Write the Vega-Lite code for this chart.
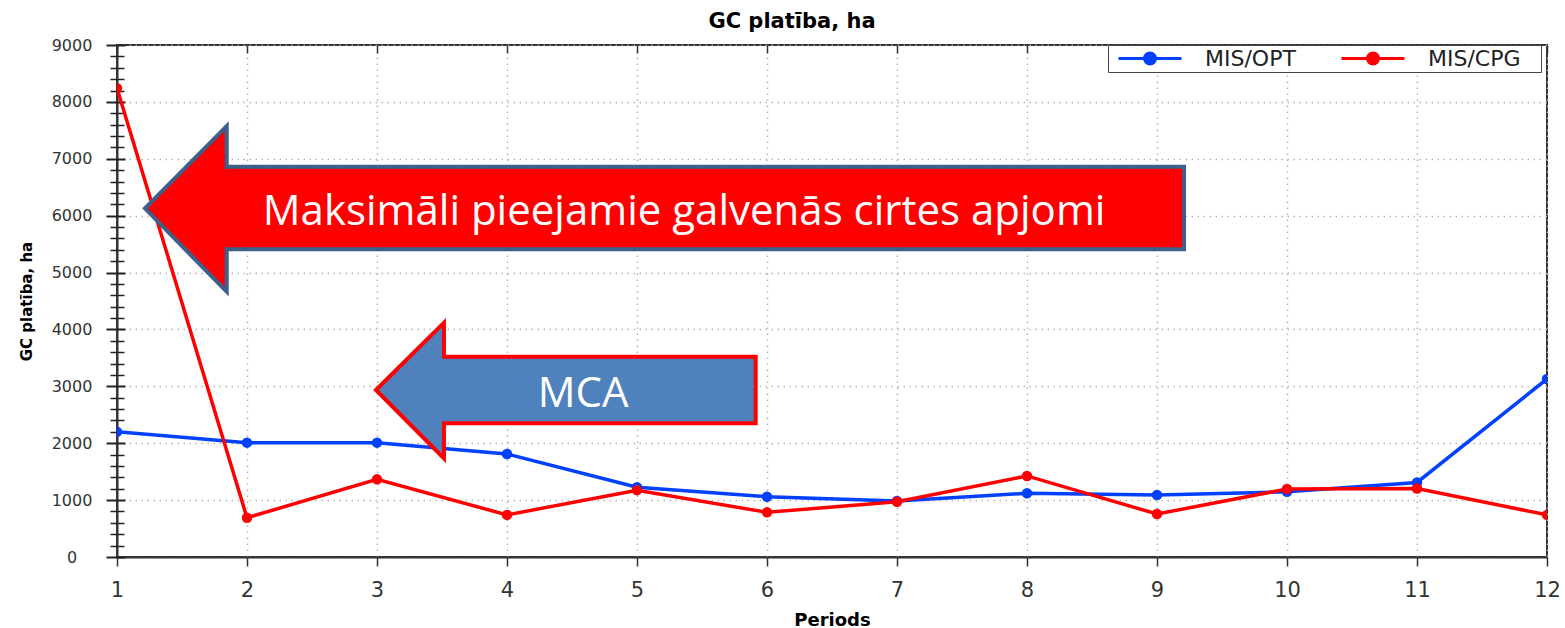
{
  "$schema": "https://vega.github.io/schema/vega-lite/v6.json",
  "autosize": {"type": "none"},
  "width": 1430,
  "height": 512,
  "padding": {"left": 117, "top": 45, "right": 18, "bottom": 71},
  "background": "white",
  "title": {"text": "GC platība, ha", "font": "DejaVu Sans", "fontSize": 21, "fontWeight": "bold", "color": "#000", "anchor": "middle", "frame": "group", "baseline": "alphabetic", "offset": -12, "dx": -40},
  "datasets": {
    "series": [
      {"series": "MIS/OPT", "period": 1, "value": 2200},
      {"series": "MIS/OPT", "period": 2, "value": 2010},
      {"series": "MIS/OPT", "period": 3, "value": 2010},
      {"series": "MIS/OPT", "period": 4, "value": 1810},
      {"series": "MIS/OPT", "period": 5, "value": 1225},
      {"series": "MIS/OPT", "period": 6, "value": 1060},
      {"series": "MIS/OPT", "period": 7, "value": 985},
      {"series": "MIS/OPT", "period": 8, "value": 1120},
      {"series": "MIS/OPT", "period": 9, "value": 1090},
      {"series": "MIS/OPT", "period": 10, "value": 1145},
      {"series": "MIS/OPT", "period": 11, "value": 1310},
      {"series": "MIS/OPT", "period": 12, "value": 3130},
      {"series": "MIS/CPG", "period": 1, "value": 8240},
      {"series": "MIS/CPG", "period": 2, "value": 690},
      {"series": "MIS/CPG", "period": 3, "value": 1365},
      {"series": "MIS/CPG", "period": 4, "value": 740},
      {"series": "MIS/CPG", "period": 5, "value": 1175},
      {"series": "MIS/CPG", "period": 6, "value": 785},
      {"series": "MIS/CPG", "period": 7, "value": 970},
      {"series": "MIS/CPG", "period": 8, "value": 1425},
      {"series": "MIS/CPG", "period": 9, "value": 755},
      {"series": "MIS/CPG", "period": 10, "value": 1195},
      {"series": "MIS/CPG", "period": 11, "value": 1205},
      {"series": "MIS/CPG", "period": 12, "value": 740}
    ],
    "redArrow": [
      {"k": 0, "x": 1.215, "y": 6129},
      {"k": 1, "x": 1.844, "y": 7576},
      {"k": 2, "x": 1.844, "y": 6861},
      {"k": 3, "x": 9.208, "y": 6861},
      {"k": 4, "x": 9.208, "y": 5409},
      {"k": 5, "x": 1.844, "y": 5409},
      {"k": 6, "x": 1.844, "y": 4663}
    ],
    "blueArrow": [
      {"k": 0, "x": 2.992, "y": 2935},
      {"k": 1, "x": 3.515, "y": 4119},
      {"k": 2, "x": 3.515, "y": 3521},
      {"k": 3, "x": 5.913, "y": 3521},
      {"k": 4, "x": 5.913, "y": 2350},
      {"k": 5, "x": 3.515, "y": 2350},
      {"k": 6, "x": 3.515, "y": 1735}
    ],
    "labels": [
      {"label": "Maksimāli pieejamie galvenās cirtes apjomi", "x": 5.362, "y": 5836},
      {"label": "MCA", "x": 4.585, "y": 2642}
    ]
  },
  "layer": [
    {
      "data": {"name": "series"},
      "mark": {"type": "line", "strokeWidth": 3.5, "clip": true, "point": {"filled": true, "size": 110, "clip": true}},
      "encoding": {
        "x": {"field": "period", "type": "quantitative", "scale": {"domain": [1, 12], "nice": false, "zero": false},
          "axis": {"orient": "bottom", "values": [1,2,3,4,5,6,7,8,9,10,11,12], "format": "d", "title": "Periods",
            "titleFont": "DejaVu Sans", "titleFontSize": 18, "titleFontWeight": "bold", "titleColor": "#000", "titlePadding": 11,
            "labelFont": "DejaVu Sans", "labelFontSize": 21, "labelColor": "#333", "labelPadding": 13, "labelFlush": false, "labelOverlap": false,
            "tickSize": 9, "tickColor": "#333", "tickWidth": 1.5, "domainColor": "#333", "domainWidth": 2,
            "grid": true, "gridColor": "#b4b4b4", "gridDash": [1.5, 4.5], "gridWidth": 1.5}},
        "y": {"field": "value", "type": "quantitative", "scale": {"domain": [0, 9000], "nice": false},
          "axis": {"orient": "left", "values": [0,1000,2000,3000,4000,5000,6000,7000,8000,9000], "format": "d", "title": null,
            "labelFont": "DejaVu Sans", "labelFontSize": 16, "labelColor": "#333", "labelAlign": "center", "labelPadding": 45.5, "labelFlush": false, "labelOverlap": false,
            "ticks": false, "tickSize": 0, "domainColor": "#333", "domainWidth": 2,
            "grid": true, "gridColor": "#b4b4b4", "gridDash": [1.5, 4.5], "gridWidth": 1.5}},
        "color": {"field": "series", "type": "nominal", "scale": {"domain": ["MIS/OPT", "MIS/CPG"], "range": ["#0040ff", "#ff0000"]},
          "legend": {"orient": "none", "legendX": 991, "legendY": 0, "direction": "horizontal", "title": " ", "titleOrient": "right", "titlePadding": 18, "titleFontSize": 22, "titleFont": "DejaVu Sans",
            "symbolType": "M-0.3,0H6M2.3,0A0.55,0.55,0,1,1,3.4,0A0.55,0.55,0,1,1,2.3,0Z", "symbolSize": 400, "symbolStrokeWidth": 3,
            "labelFont": "DejaVu Sans", "labelFontSize": 22, "labelColor": "#222", "labelOffset": 72, "columnPadding": 37,
            "padding": 2, "strokeColor": "#444", "fillColor": "#fff", "cornerRadius": 0,
            "encode": {"symbols": {"update": {"fill": {"scale": "color", "field": "value"}, "stroke": {"scale": "color", "field": "value"}, "opacity": {"value": 1}}}}}}
      }
    },
    {
      "data": {"name": "redArrow"},
      "mark": {"type": "line", "interpolate": "linear-closed", "fill": "#ff0000", "stroke": "#3c5f8c", "strokeWidth": 4, "strokeJoin": "miter"},
      "encoding": {
        "x": {"field": "x", "type": "quantitative", "scale": {"domain": [1, 12], "nice": false, "zero": false},
          "axis": {"orient": "top", "values": [1,2,3,4,5,6,7,8,9,10,11,12], "offset": -8, "tickSize": 8, "labels": false, "domain": false, "grid": false, "title": null, "tickColor": "#333", "tickWidth": 1.5}},
        "y": {"field": "y", "type": "quantitative", "scale": {"domain": [0, 9000], "nice": false},
          "axis": {"orient": "left", "values": [0,1000,2000,3000,4000,5000,6000,7000,8000,9000], "offset": -8, "tickSize": 19, "labels": false, "domain": false, "grid": false, "tickColor": "#222", "tickWidth": 2,
            "title": "GC platība, ha", "titleFont": "DejaVu Sans", "titleFontSize": 15, "titleFontWeight": "bold", "titleColor": "#000", "titlePadding": 71, "titleAnchor": "middle"}},
        "order": {"field": "k", "type": "quantitative"}
      }
    },
    {
      "data": {"name": "blueArrow"},
      "mark": {"type": "line", "interpolate": "linear-closed", "fill": "#4f81bd", "stroke": "#ff0000", "strokeWidth": 4, "strokeJoin": "miter"},
      "encoding": {
        "x": {"field": "x", "type": "quantitative", "scale": {"domain": [1, 12], "nice": false, "zero": false}, "axis": null},
        "y": {"field": "y", "type": "quantitative", "scale": {"domain": [0, 9000], "nice": false},
          "axis": {"orient": "left", "values": [200,400,600,800,1200,1400,1600,1800,2200,2400,2600,2800,3200,3400,3600,3800,4200,4400,4600,4800,5200,5400,5600,5800,6200,6400,6600,6800,7200,7400,7600,7800,8200,8400,8600,8800], "offset": -7, "tickSize": 14, "labels": false, "domain": false, "grid": false, "title": null, "tickColor": "#222", "tickWidth": 1.5}},
        "order": {"field": "k", "type": "quantitative"}
      }
    },
    {
      "data": {"name": "labels"},
      "mark": {"type": "text", "font": "Open Sans", "fontSize": 42, "color": "#ffffff", "align": "center", "baseline": "alphabetic"},
      "encoding": {
        "x": {"field": "x", "type": "quantitative", "scale": {"domain": [1, 12], "nice": false, "zero": false}, "axis": null},
        "y": {"field": "y", "type": "quantitative", "scale": {"domain": [0, 9000], "nice": false}, "axis": null},
        "text": {"field": "label", "type": "nominal"}
      }
    }
  ],
  "resolve": {"axis": {"x": "independent", "y": "independent"}},
  "config": {
    "view": {"stroke": "#333", "strokeWidth": 2}
  }
}
